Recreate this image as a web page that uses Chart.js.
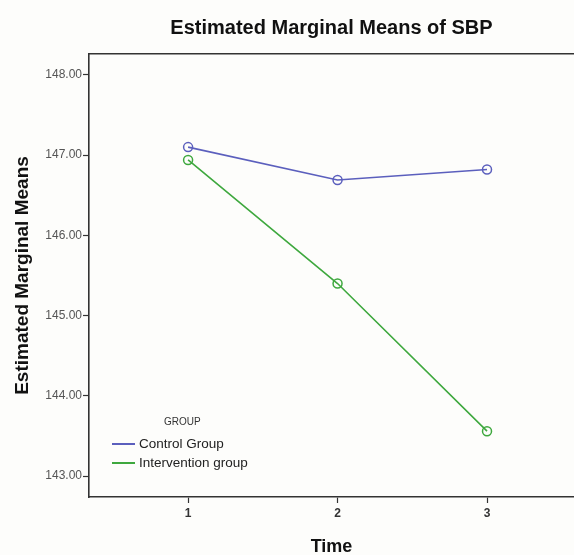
<!DOCTYPE html>
<html>
<head>
<meta charset="utf-8">
<script src="https://cdn.jsdelivr.net/npm/chart.js@4.4.1/dist/chart.umd.min.js"></script>
<style>
  html, body { margin: 0; padding: 0; background: #fdfdfb; overflow: hidden; }
  #wrap { position: relative; width: 574px; height: 555px; }
  #legend { position: absolute; left: 112px; top: 416px; font-family: "Liberation Sans", Arial, sans-serif; color: #222; }
  #legend .ttl { font-size: 10px; margin-left: 52px; margin-bottom: 7px; color: #333; }
  #legend .row { display: flex; align-items: center; height: 19px; font-size: 13.5px; }
  #legend .sw { display: inline-block; width: 23px; height: 2px; margin-right: 4px; }
</style>
</head>
<body>
<div id="wrap">
  <canvas id="c" width="574" height="555"></canvas>
  <div id="legend"></div>
</div>
<script>
const chartTitle = "Estimated Marginal Means of SBP";
const xTitle = "Time";
const yTitle = "Estimated Marginal Means";
const legendTitle = "GROUP";
const times = [1, 2, 3];
const seriesNames = ["Control Group", "Intervention group"];
const controlValues = [147.10, 146.69, 146.82];
const interventionValues = [146.94, 145.40, 143.56];
const yTickValues = [143, 144, 145, 146, 147, 148];
const xTickValues = [1, 2, 3];
const seriesColors = ["#5b5fbd", "#3ea83e"];

const allSeries = [controlValues, interventionValues];

const datasets = allSeries.map((vals, i) => ({
  label: seriesNames[i],
  data: times.map((t, j) => ({ x: t, y: vals[j] })),
  borderColor: seriesColors[i],
  backgroundColor: 'rgba(0,0,0,0)',
  borderWidth: 1.6,
  pointRadius: 4.5,
  pointBorderWidth: 1.5,
  pointBackgroundColor: 'rgba(0,0,0,0)',
  pointBorderColor: seriesColors[i],
  tension: 0,
  xAxisID: 'x',
  yAxisID: 'y'
}));

// HTML legend
const lg = document.getElementById('legend');
const t = document.createElement('div'); t.className = 'ttl'; t.textContent = legendTitle; lg.appendChild(t);
seriesNames.forEach((n, i) => {
  const r = document.createElement('div'); r.className = 'row';
  const s = document.createElement('span'); s.className = 'sw'; s.style.background = seriesColors[i];
  const l = document.createElement('span'); l.textContent = n;
  r.appendChild(s); r.appendChild(l); lg.appendChild(r);
});

const fontFam = '"Liberation Sans", Arial, sans-serif';

new Chart(document.getElementById('c'), {
  type: 'line',
  data: { datasets },
  options: {
    responsive: false,
    animation: false,
    layout: { padding: 0, autoPadding: false },
    plugins: { legend: { display: false }, title: { display: false }, tooltip: { enabled: false } },
    scales: {
      x: {
        type: 'linear',
        position: 'bottom',
        min: 0.337,
        max: 3.582,
        afterBuildTicks: s => { s.ticks = xTickValues.map(v => ({ value: v })); },
        afterFit: s => { s.height = 58; },
        grid: { drawOnChartArea: false, drawTicks: true, tickLength: 6, color: '#333', tickWidth: 1.2 },
        border: { display: true, color: '#333', width: 1.6 },
        ticks: { color: '#333', font: { family: fontFam, size: 12, weight: 'bold' }, padding: 3 },
        title: { display: true, text: xTitle, color: '#111', font: { family: fontFam, size: 18, weight: 'bold' }, padding: { top: 0, bottom: -3 } }
      },
      xTop: {
        type: 'linear',
        position: 'top',
        min: 0.337,
        max: 3.582,
        afterBuildTicks: s => { s.ticks = []; },
        afterFit: s => { s.height = 54; },
        grid: { drawOnChartArea: false, drawTicks: false },
        border: { display: true, color: '#333', width: 1.6 },
        ticks: { display: false },
        title: { display: true, text: chartTitle, color: '#111', font: { family: fontFam, size: 20, weight: 'bold' }, padding: { top: 16, bottom: 0 } }
      },
      y: {
        type: 'linear',
        position: 'left',
        min: 142.74,
        max: 148.26,
        afterBuildTicks: s => { s.ticks = yTickValues.map(v => ({ value: v })); },
        afterFit: s => { s.width = 89; },
        grid: { drawOnChartArea: false, drawTicks: true, tickLength: 6, color: '#333', tickWidth: 1.2 },
        border: { display: true, color: '#333', width: 1.6 },
        ticks: { color: '#555', font: { family: fontFam, size: 12 }, padding: 1, callback: v => Number(v).toFixed(2) },
        title: { display: true, text: yTitle, color: '#111', font: { family: fontFam, size: 19, weight: 'bold' }, padding: { top: 11, bottom: 0 } }
      }
    }
  }
});
</script>
</body>
</html>
